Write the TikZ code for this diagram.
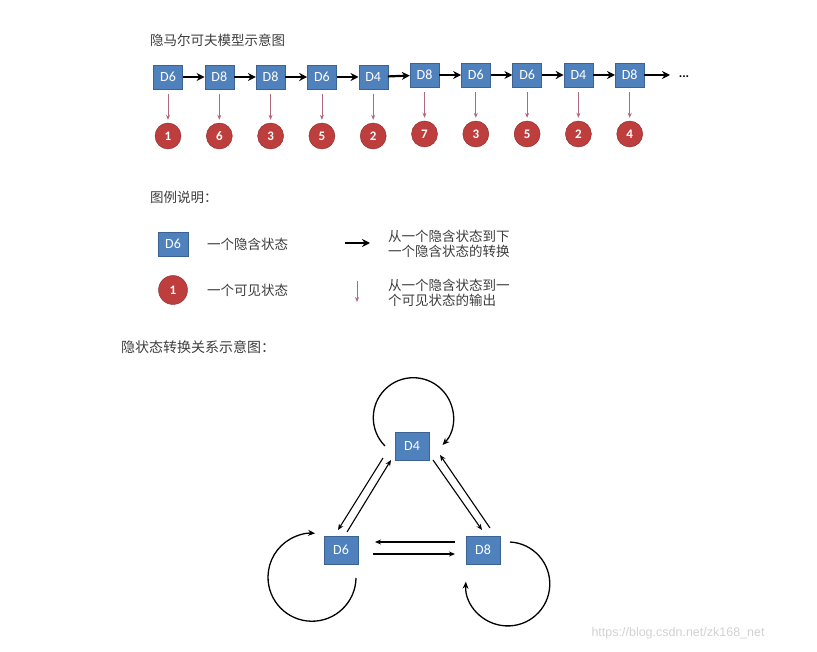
\documentclass[tikz,border=0pt]{standalone}
\usepackage{fontspec}
\setmainfont{Carlito}
\newfontfamily\cjk{Noto Sans CJK SC}
\newfontfamily\wmfont{Liberation Sans}
\usetikzlibrary{arrows.meta,positioning,calc}
\definecolor{hidfill}{RGB}{79,129,189}
\definecolor{hidline}{RGB}{60,98,145}
\definecolor{obsfill}{RGB}{190,62,62}
\definecolor{obsline}{RGB}{135,40,40}
\definecolor{emit}{RGB}{175,105,125}
\definecolor{txt}{RGB}{60,60,60}
\tikzset{
  hid/.style={draw=hidline,fill=hidfill,text=white,minimum width=29,minimum height=24,
    inner sep=0pt,font=\fontsize{14}{14}\selectfont},
  bighid/.style={hid,minimum width=34,minimum height=28,font=\fontsize{14}{14}\selectfont},
  obs/.style={circle,draw=obsline,fill=obsfill,text=white,minimum size=26,inner sep=0pt,
    font=\bfseries\fontsize{13}{13}\selectfont},
  lbl/.style={anchor=west,text=txt,inner sep=0pt,align=left,font=\cjk\fontsize{13.5}{15}\selectfont},
  trans/.style={-{Stealth[length=8pt,width=8pt]},line width=2.2pt},
  emits/.style={-{Stealth[length=5pt,width=4pt]},draw=emit,line width=0.8pt},
  edge/.style={-{Stealth[length=6pt,width=5pt]},line width=1.1pt},
  selfloop/.style={-{Stealth[length=7pt,width=6pt]},line width=1.3pt},
}
\begin{document}
\begin{tikzpicture}[x=1pt,y=-1pt]
  \useasboundingbox (0,0) rectangle (817,652);
  % chain of hidden states and outputs
  \node[lbl] (title) at (150,40) {隐马尔可夫模型示意图};
  \foreach \lab/\num [count=\i] in {D6/1,D8/6,D8/3,D6/5,D4/2,D8/7,D6/3,D6/5,D4/2,D8/4} {
    \pgfmathsetmacro{\yy}{\i<6 ? 0 : -2}
    \node[hid] (h\i) at (168+51.3*\i-51.3,77+\yy) {\lab};
    \node[obs] (o\i) at (168+51.3*\i-51.3,136+\yy) {\num};
    \draw[emits,shorten <=5pt,shorten >=3pt] (h\i) -- (o\i);
  }
  \foreach \i [evaluate=\i as \j using int(\i+1)] in {1,...,9}
    \draw[trans] (h\i) -- (h\j);
  \coordinate (more) at (670,75);
  \draw[trans] (h10) -- (more);
  \node[font=\bfseries\fontsize{13}{13}\selectfont] (dots) at (684,77) {...};
  % legend
  \node[lbl] (legend) at (150,197) {图例说明：};
  \node[hid,minimum width=30,minimum height=24] (lh) at (173,244) {D6};
  \node[lbl] (lhtxt) at (207,244) {一个隐含状态};
  \node[obs,minimum size=29] (lo) at (173,290) {1};
  \node[lbl] (lotxt) at (207,290) {一个可见状态};
  \coordinate (ta) at (345,243);
  \coordinate (tb) at (370,243);
  \draw[trans] (ta) -- (tb);
  \node[lbl] (tatxt) at (388,244) {从一个隐含状态到下\\一个隐含状态的转换};
  \coordinate (ea) at (357,281);
  \coordinate (eb) at (357,302);
  \draw[emits] (ea) -- (eb);
  \node[lbl] (eatxt) at (388,293) {从一个隐含状态到一\\个可见状态的输出};
  % transitions between hidden states
  \node[lbl,font=\cjk\fontsize{14}{14}\selectfont] (heading) at (121,347) {隐状态转换关系示意图：};
  \node[bighid] (D4) at (412,446) {D4};
  \node[bighid] (D6) at (341,550) {D6};
  \node[bighid] (D8) at (483,550) {D8};
  \draw[edge] ([shift={(-29,12)}]D4.center) -- ([shift={(-3,-20)}]D6.center);
  \draw[edge] ([shift={(6,-18)}]D6.center) -- ([shift={(-21,14)}]D4.center);
  \draw[edge] ([shift={(21,14)}]D4.center) -- ([shift={(-1,-20)}]D8.center);
  \draw[edge] ([shift={(7,-22)}]D8.center) -- ([shift={(28,9)}]D4.center);
  \draw[edge] ([shift={(-28,-8)}]D8.center) -- ([shift={(34,-8)}]D6.center);
  \draw[edge] ([shift={(32,4)}]D6.center) -- ([shift={(-28,4)}]D8.center);
  \draw[selfloop] ([shift={(-27,0)}]D4.center) arc[start angle=135,end angle=403,radius=40];
  \draw[selfloop] ([shift={(15,28)}]D6.center) arc[start angle=1,end angle=274,radius=44];
  \draw[selfloop] ([shift={(27,-8)}]D8.center) arc[start angle=-87,end angle=183,radius=42];
  \node[anchor=west,text=black!18,font=\wmfont\fontsize{12.5}{12.5}\selectfont] (mark) at (588,633) {https://blog.csdn.net/zk168\_net};
\end{tikzpicture}
\end{document}
